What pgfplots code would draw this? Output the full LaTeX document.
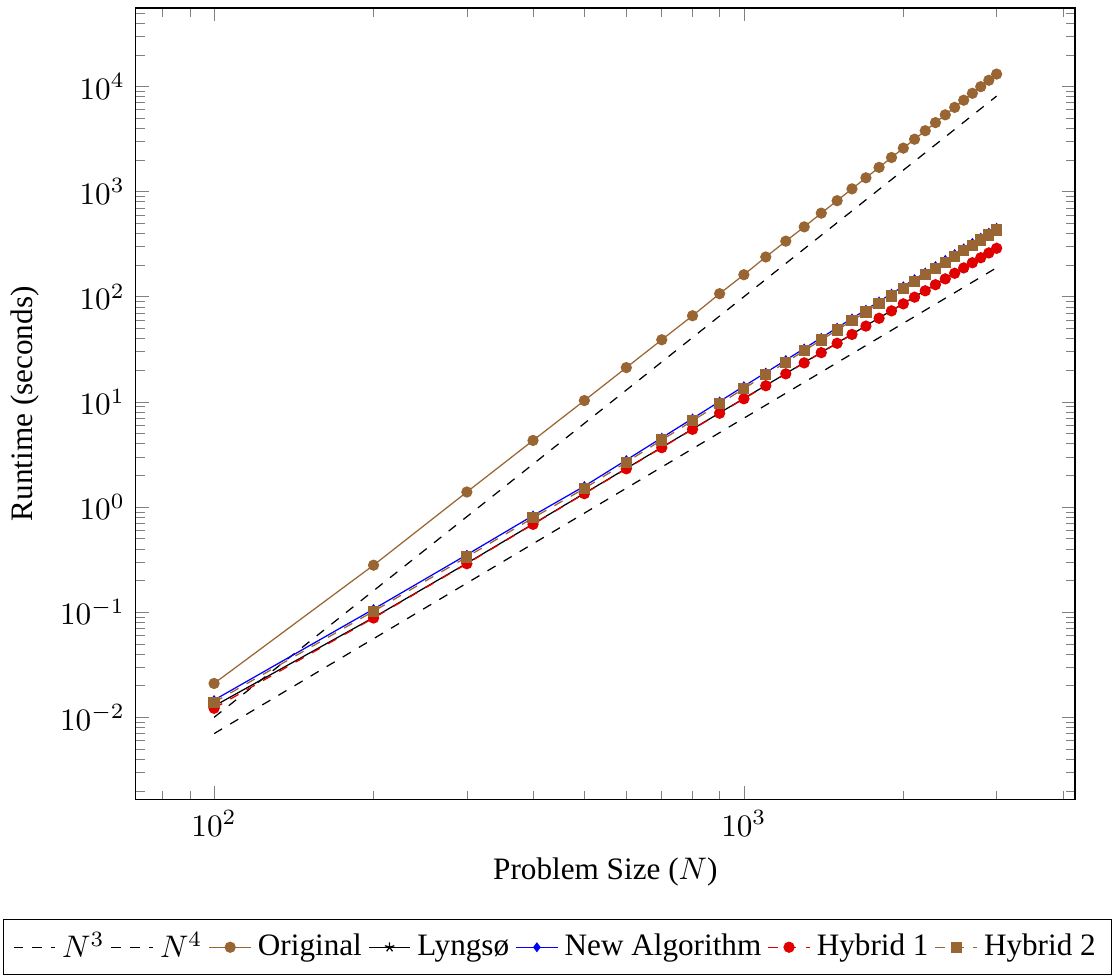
\documentclass[border=0pt]{standalone}
\usepackage{pgfplots}
\pgfplotsset{compat=1.18}
\usepackage{fontspec}
\setmainfont{Liberation Serif}
\definecolor{mybrown}{RGB}{153,102,51}
\definecolor{myred}{RGB}{225,0,0}
\begin{document}
\begin{tikzpicture}
\begin{loglogaxis}[
  name=main,
  scale only axis,
  width=301pt, height=253.7pt,
  xlabel={Problem Size ($N$)},
  ylabel={Runtime (seconds)},
  legend columns=-1,
  legend style={at={(0.449,-0.151)}, anchor=north, draw=black, font=\normalsize},
  legend image code/.code={\draw[mark repeat=2,mark phase=2] plot coordinates {(0cm,0cm) (0.235cm,0cm) (0.47cm,0cm)};},
  mark size=1.6pt,
]
\addplot[black, dashed] coordinates {(100,0.007) (3000,189)};
\addlegendentry{$N^3$}
\addplot[black, dashed] coordinates {(100,0.0100) (3000,8100)};
\addlegendentry{$N^4$}
\addplot[mybrown, mark=otimes*, mark options={fill=mybrown}] coordinates {
(100,0.021) (200,0.28) (300,1.39) (400,4.3) (500,10.3) (600,21.2) (700,39) (800,66) (900,107) (1000,162)
(1100,239) (1200,338) (1300,462) (1400,624) (1500,820) (1600,1062) (1700,1353) (1800,1701) (1900,2111) (2000,2592)
(2100,3151) (2200,3795) (2300,4533) (2400,5375) (2500,6328) (2600,7403) (2700,8609) (2800,9957) (2900,11458) (3000,13122)};
\addlegendentry{Original}
\addplot[black, mark=star, mark size=1.6pt] coordinates {
(100,0.0128) (200,0.089) (300,0.292) (400,0.69) (500,1.35) (600,2.33) (700,3.70) (800,5.52) (900,7.86) (1000,10.8)
(1100,14.35) (1200,18.6) (1300,23.7) (1400,29.6) (1500,36.4) (1600,44.1) (1700,53.0) (1800,62.9) (1900,74.0) (2000,86.3)
(2100,99.9) (2200,114.8) (2300,131.2) (2400,149.1) (2500,168.5) (2600,189.6) (2700,212.3) (2800,236.8) (2900,263.1) (3000,291.2)};
\addlegendentry{Lyngsø}
\addplot[blue, mark=diamond*, mark size=1.3pt] coordinates {
(100,0.0146) (200,0.107) (300,0.352) (400,0.83) (500,1.58) (600,2.80) (700,4.56) (800,6.95) (900,10.1) (1000,14.1)
(1100,19.0) (1200,25.0) (1300,32.2) (1400,40.7) (1500,50.7) (1600,62.2) (1700,75.3) (1800,90.2) (1900,107.0) (2000,125.8)
(2100,146.8) (2200,170.0) (2300,195.6) (2400,223.9) (2500,254.6) (2600,288.1) (2700,324.8) (2800,364.2) (2900,407.0) (3000,452.9)};
\addlegendentry{New Algorithm}
\addplot[myred, dashed, mark=*, mark options={solid, fill=myred}] coordinates {
(100,0.0122) (200,0.088) (300,0.289) (400,0.685) (500,1.34) (600,2.31) (700,3.67) (800,5.48) (900,7.80) (1000,10.7)
(1100,14.24) (1200,18.49) (1300,23.5) (1400,29.4) (1500,36.1) (1600,43.8) (1700,52.6) (1800,62.4) (1900,73.4) (2000,85.6)
(2100,99.1) (2200,113.9) (2300,130.2) (2400,147.9) (2500,167.2) (2600,188.1) (2700,210.6) (2800,234.9) (2900,261.0) (3000,288.9)};
\addlegendentry{Hybrid 1}
\addplot[mybrown, dashed, mark=square*, mark options={solid, fill=mybrown}] coordinates {
(100,0.0139) (200,0.102) (300,0.335) (400,0.79) (500,1.50) (600,2.67) (700,4.34) (800,6.62) (900,9.6) (1000,13.4)
(1100,18.1) (1200,23.8) (1300,30.7) (1400,38.8) (1500,48.3) (1600,59.2) (1700,71.7) (1800,85.9) (1900,101.9) (2000,119.8)
(2100,139.8) (2200,161.9) (2300,186.3) (2400,213.2) (2500,242.5) (2600,274.4) (2700,309.3) (2800,346.9) (2900,387.6) (3000,431.3)};
\addlegendentry{Hybrid 2}
\end{loglogaxis}
\path ([yshift=2.6pt]main.north);
\end{tikzpicture}
\end{document}
